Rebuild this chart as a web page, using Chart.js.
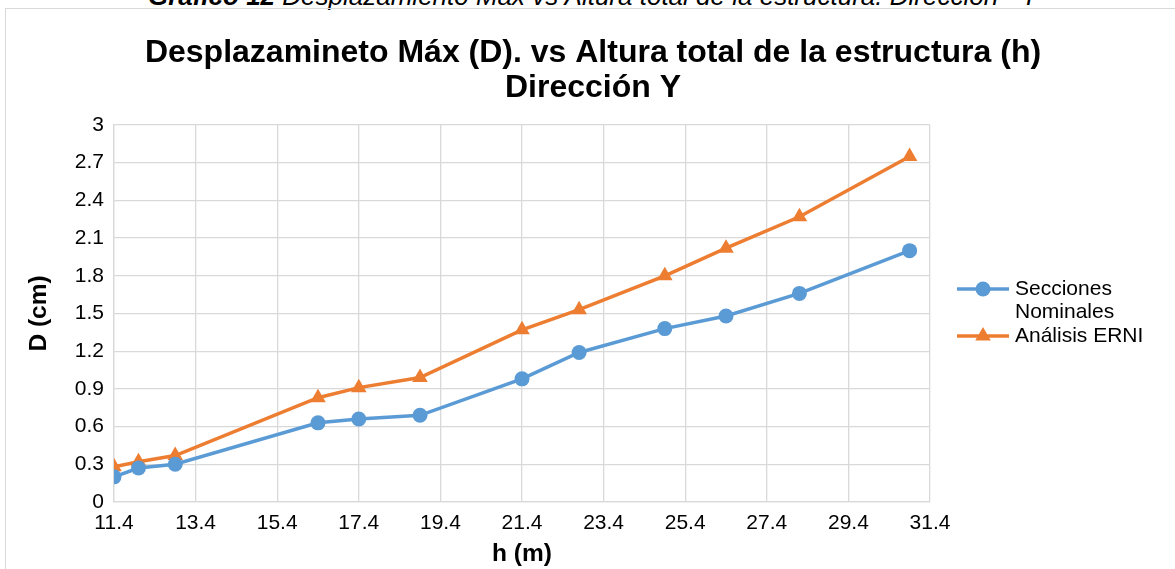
<!DOCTYPE html>
<html>
<head>
<meta charset="utf-8">
<script src="https://cdn.jsdelivr.net/npm/chart.js@4.4.1/dist/chart.umd.min.js"></script>
<style>
  html, body { margin: 0; padding: 0; background: #fff; overflow: hidden; width: 1175px; height: 569px; }
  #frame { position: absolute; left: 5px; top: 8px; width: 1200px; height: 600px; border: 1px solid #d9d9d9; box-sizing: border-box; }
  #caption { position: absolute; left: 5px; width: 1176px; top: -17.5px; text-align: center; white-space: nowrap;
             font: italic 26px "Liberation Sans", Arial, sans-serif; line-height: 26px; color: #000; }
  #caption b { font-weight: bold; }
  #chart { position: absolute; left: 5px; top: 0; }
</style>
</head>
<body>
<div id="caption"><b>Gráfico 12</b> Desplazamiento Máx vs Altura total de la estructura. Dirección - Y</div>
<div id="frame"></div>
<canvas id="chart" width="1176" height="569"></canvas>
<script>
const FONT = '"Liberation Sans", Arial, sans-serif';

// Total building height (m) for each structure
const heights = [11.4, 12.0, 12.9, 16.4, 17.4, 18.9, 21.4, 22.8, 24.9, 26.4, 28.2, 30.9];
// Maximum displacement D (cm)
const nominal = [0.20, 0.27, 0.30, 0.63, 0.66, 0.69, 0.98, 1.19, 1.38, 1.48, 1.66, 2.00];
const erni    = [0.28, 0.32, 0.37, 0.83, 0.91, 0.99, 1.37, 1.53, 1.80, 2.02, 2.27, 2.75];

const seriesNames = ['Secciones Nominales', 'Análisis ERNI'];
const xTicks = [11.4, 13.4, 15.4, 17.4, 19.4, 21.4, 23.4, 25.4, 27.4, 29.4, 31.4];
const yTicks = [0, 0.3, 0.6, 0.9, 1.2, 1.5, 1.8, 2.1, 2.4, 2.7, 3];
const titleLines = ['Desplazamineto Máx (D). vs Altura total de la estructura (h)', 'Dirección Y'];
const xTitle = 'h (m)';
const yTitle = 'D (cm)';

const BLUE = '#5b9bd5';
const ORANGE = '#ed7d31';
const GRID = '#d9d9d9';

const toPoints = (xs, ys) => xs.map((x, i) => ({ x: x, y: ys[i] }));

// Draws a marker the same way for the legend samples
function marker(ctx, style, r, x, y) {
  ctx.beginPath();
  if (style === 'triangle') {
    ctx.moveTo(x, y - r);
    ctx.lineTo(x + r * Math.sqrt(3) / 2, y + r / 2);
    ctx.lineTo(x - r * Math.sqrt(3) / 2, y + r / 2);
    ctx.closePath();
  } else {
    ctx.arc(x, y, r, 0, Math.PI * 2);
  }
  ctx.fill();
}

// Legend on the right, with wrapped labels
const sideLegend = {
  id: 'sideLegend',
  afterDraw(chart, args, opts) {
    const ctx = chart.ctx;
    ctx.save();
    ctx.font = opts.size + 'px ' + FONT;
    ctx.textBaseline = 'middle';
    ctx.textAlign = 'left';
    let y = opts.y;
    chart.data.datasets.forEach((ds) => {
      const words = ds.label.split(' ');
      const lines = [];
      let cur = '';
      words.forEach((w) => {
        const t = cur ? cur + ' ' + w : w;
        if (cur && ctx.measureText(t).width > opts.maxWidth) { lines.push(cur); cur = w; } else { cur = t; }
      });
      lines.push(cur);

      ctx.strokeStyle = ds.borderColor;
      ctx.lineWidth = ds.borderWidth;
      ctx.beginPath();
      ctx.moveTo(opts.x0, y);
      ctx.lineTo(opts.x1, y);
      ctx.stroke();
      ctx.fillStyle = ds.pointBackgroundColor;
      marker(ctx, ds.pointStyle, ds.pointRadius, (opts.x0 + opts.x1) / 2, y);

      ctx.fillStyle = '#000';
      lines.forEach((ln, k) => ctx.fillText(ln, opts.tx, y + k * opts.lineH));
      y += lines.length * opts.lineH;
    });
    ctx.restore();
  }
};

new Chart(document.getElementById('chart'), {
  type: 'scatter',
  data: {
    datasets: [
      {
        label: seriesNames[0],
        data: toPoints(heights, nominal),
        showLine: true,
        borderColor: BLUE,
        backgroundColor: BLUE,
        pointBackgroundColor: BLUE,
        pointBorderWidth: 0,
        borderWidth: 3.5,
        pointStyle: 'circle',
        pointRadius: 7.5,
        pointHoverRadius: 7.5
      },
      {
        label: seriesNames[1],
        data: toPoints(heights, erni),
        showLine: true,
        borderColor: ORANGE,
        backgroundColor: ORANGE,
        pointBackgroundColor: ORANGE,
        pointBorderWidth: 0,
        borderWidth: 3.5,
        pointStyle: 'triangle',
        pointRadius: 9,
        pointHoverRadius: 9
      }
    ]
  },
  options: {
    responsive: false,
    animation: false,
    layout: { padding: 0 },
    plugins: {
      legend: { display: false },
      tooltip: { enabled: false },
      title: {
        display: true,
        text: titleLines,
        color: '#000',
        font: { family: FONT, size: 32, weight: 'bold', lineHeight: 1.1 },
        padding: { top: 35.4, bottom: 19.2 }
      },
      sideLegend: { x0: 952, x1: 1004, tx: 1010, y: 289, lineH: 23.5, size: 21, maxWidth: 150 }
    },
    scales: {
      x: {
        type: 'linear',
        min: xTicks[0],
        max: xTicks[xTicks.length - 1],
        afterBuildTicks: (s) => { s.ticks = xTicks.map((v) => ({ value: v })); },
        afterFit: (s) => { s.height = 67; },
        grid: { color: GRID, lineWidth: 1.3, drawTicks: false },
        border: { color: GRID, width: 1.3 },
        ticks: { color: '#000', padding: 9, font: { family: FONT, size: 21 }, maxRotation: 0,
                 callback: (v) => String(v) },
        title: { display: true, text: xTitle, color: '#000',
                 font: { family: FONT, size: 24.5, weight: 'bold' }, padding: { top: 0, bottom: 0 } }
      },
      y: {
        min: yTicks[0],
        max: yTicks[yTicks.length - 1],
        afterBuildTicks: (s) => { s.ticks = yTicks.map((v) => ({ value: v })); },
        afterFit: (s) => { s.width = 109; },
        grid: { color: GRID, lineWidth: 1.3, drawTicks: false },
        border: { color: GRID, width: 1.3 },
        ticks: { color: '#000', padding: 10, font: { family: FONT, size: 21 },
                 callback: (v) => String(v) },
        title: { display: true, text: yTitle, color: '#000',
                 font: { family: FONT, size: 24.5, weight: 'bold' }, padding: { top: 20, bottom: 0 } }
      },
      // empty right-hand band that holds the legend
      legendBand: {
        position: 'right',
        min: 0,
        max: 1,
        afterFit: (s) => { s.width = 251; },
        grid: { display: false, drawOnChartArea: false },
        border: { display: false },
        ticks: { display: false },
        title: { display: false }
      }
    }
  },
  plugins: [sideLegend]
});
</script>
</body>
</html>
